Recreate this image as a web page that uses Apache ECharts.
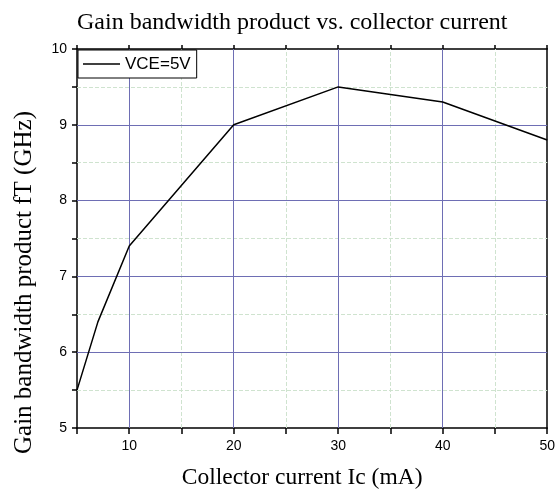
<!DOCTYPE html>
<html>
<head>
<meta charset="utf-8">
<script src="https://cdn.jsdelivr.net/npm/echarts@6/dist/echarts.min.js"></script>
<style>
html,body{margin:0;padding:0;background:#fff;}
#chart{width:558px;height:495px;}
</style>
</head>
<body>
<div id="chart"></div>
<script>
// Data
const currentMA = [5, 7, 10, 20, 30, 40, 50];
const fTGHz = [5.5, 6.4, 7.4, 9.0, 9.5, 9.3, 8.8];
const seriesName = 'VCE=5V';
const titleText = 'Gain bandwidth product vs. collector current';
const xName = 'Collector current Ic (mA)';
const yName = 'Gain bandwidth product fT (GHz)';
// grid line positions (axis values)
const xMajorGrid = [10, 20, 30, 40];
const xMinorGrid = [15, 25, 35, 45];
const yMajorGrid = [6, 7, 8, 9];
const yMinorGrid = [5.5, 6.5, 7.5, 8.5, 9.5];

const majorColor = '#6e6eb4';
const minorColor = '#cfe3cf';
const serif = '"Liberation Serif", "Times New Roman", serif';
const sans = '"Liberation Sans", Arial, sans-serif';

const chart = echarts.init(document.getElementById('chart'), null, {renderer: 'canvas'});
const pts = currentMA.map((x, i) => [x, fTGHz[i]]);

function gridLines(xs, ys, color, type, z) {
  return {
    silent: true, symbol: 'none', animation: false, z: z,
    label: {show: false},
    lineStyle: {color: color, width: 1, type: type},
    emphasis: {disabled: true},
    data: xs.map(v => ({xAxis: v})).concat(ys.map(v => ({yAxis: v})))
  };
}

chart.setOption({
  animation: false,
  backgroundColor: '#fff',
  title: {
    text: titleText,
    left: 72, top: 6,
    textStyle: {fontFamily: serif, fontSize: 24, fontWeight: 'normal', color: '#000'}
  },
  legend: {
    left: 78, top: 50, z: 10,
    orient: 'vertical',
    data: [{name: seriesName, icon: 'rect'}],
    itemWidth: 37, itemHeight: 1.5,
    padding: [5.5, 6, 5.5, 5],
    borderColor: '#000', borderWidth: 1,
    backgroundColor: '#fff',
    textStyle: {fontFamily: sans, fontSize: 17, color: '#000'},
    itemStyle: {color: '#000'}
  },
  grid: {left: 77, right: 10, top: 49, bottom: 66, containLabel: false},
  xAxis: [
    {
      type: 'value', position: 'bottom', min: 5, max: 50, interval: 5,
      name: xName, nameLocation: 'middle', nameGap: 38,
      nameTextStyle: {fontFamily: serif, fontSize: 23.5, color: '#000', padding: [0, 20, 0, 0]},
      axisLine: {show: true, lineStyle: {color: '#000', width: 1.5}},
      axisTick: {show: true, length: 6, lineStyle: {color: '#000', width: 1.5}},
      axisLabel: {
        fontFamily: sans, fontSize: 14, color: '#000', margin: 11,
        formatter: v => (v % 10 === 0 ? String(v) : '')
      },
      splitLine: {show: false}
    },
    {
      type: 'value', position: 'top', min: 5, max: 50, interval: 5,
      axisLine: {show: true, lineStyle: {color: '#000', width: 1.5}},
      axisTick: {show: true, length: 4, lineStyle: {color: '#000', width: 1.5}},
      axisLabel: {show: false},
      splitLine: {show: false}
    }
  ],
  yAxis: [
    {
      type: 'value', position: 'left', min: 5, max: 10, interval: 0.5,
      name: yName, nameLocation: 'middle', nameGap: 40,
      nameTextStyle: {fontFamily: serif, fontSize: 25, color: '#000', padding: [0, 88, 0, 0]},
      axisLine: {show: true, lineStyle: {color: '#000', width: 1.5}},
      axisTick: {show: true, length: 5, lineStyle: {color: '#000', width: 1.5}},
      axisLabel: {
        fontFamily: sans, fontSize: 14, color: '#000', margin: 10,
        formatter: v => (Math.abs(v - Math.round(v)) < 1e-9 ? String(Math.round(v)) : '')
      },
      splitLine: {show: false}
    },
    {
      type: 'value', position: 'right', min: 5, max: 10,
      axisLine: {show: true, lineStyle: {color: '#000', width: 1.5}},
      axisTick: {show: false}, axisLabel: {show: false}, splitLine: {show: false}
    }
  ],
  series: [
    {
      name: '_minorGrid', type: 'line', xAxisIndex: 0, yAxisIndex: 0,
      data: [], z: 1, silent: true,
      markLine: gridLines(xMinorGrid, yMinorGrid, minorColor, [4, 2], 1)
    },
    {
      name: '_majorGrid', type: 'line', xAxisIndex: 0, yAxisIndex: 0,
      data: [], z: 1, silent: true,
      markLine: gridLines(xMajorGrid, yMajorGrid, majorColor, 'solid', 1)
    },
    {
      name: seriesName, type: 'line', xAxisIndex: 0, yAxisIndex: 0,
      data: pts, symbol: 'none', smooth: false, z: 3,
      lineStyle: {color: '#000', width: 1.5},
      itemStyle: {color: '#000'}
    }
  ]
});
</script>
</body>
</html>
